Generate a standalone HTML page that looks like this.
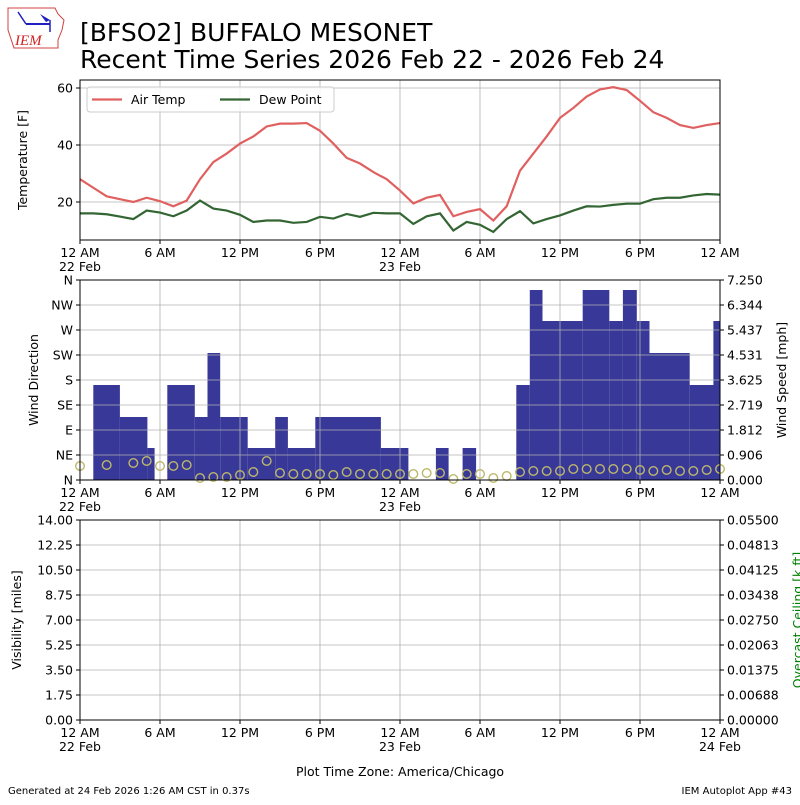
<!DOCTYPE html>
<html><head><meta charset="utf-8"><style>
body{margin:0;background:#fff;}
svg text{font-family:"DejaVu Sans","Liberation Sans",sans-serif;}
</style></head><body>
<svg id="s" width="800" height="800" xmlns="http://www.w3.org/2000/svg">
<rect width="800" height="800" fill="#fff"/>
<path d="M8,8 L55,8 L58,14 L64,20 L62,30 L58,40 L58,48 L14,48 L8,30 Z" fill="none" stroke="#d04040" stroke-width="1"/>
<line x1="26" y1="24" x2="50" y2="24" stroke="#2020c0" stroke-width="2"/>
<line x1="18" y1="12" x2="26" y2="24" stroke="#2020c0" stroke-width="1.5"/>
<path d="M40,14 L50,20 L46,22 Z" fill="#2020c0"/>
<line x1="50" y1="20" x2="50" y2="32" stroke="#2020c0" stroke-width="1.5"/>
<text x="15" y="45" font-size="15" fill="#d02020" font-style="italic" style="font-family:'Liberation Serif',serif">IEM</text>
<text x="80" y="41" font-size="25">[BFSO2] BUFFALO MESONET</text>
<text x="80" y="68" font-size="25">Recent Time Series 2026 Feb 22 - 2026 Feb 24</text>
<g id="g"></g>
<text x="8" y="794" font-size="10">Generated at 24 Feb 2026 1:26 AM CST in 0.37s</text>
<text x="792" y="794" font-size="10" text-anchor="end">IEM Autoplot App #43</text>
</svg>
<script>
const g=document.getElementById('g');let h='';
const X=hr=>80+hr*640/48;
function grid(y0,y1,ys){for(let i=0;i<=8;i++){let x=80+i*80;h+=`<line x1="${x}" y1="${y0}" x2="${x}" y2="${y1}" stroke="#b0b0b0" stroke-width="0.8"/>`;}
ys.forEach(y=>h+=`<line x1="80" y1="${y}" x2="720" y2="${y}" stroke="#b0b0b0" stroke-width="0.8"/>`);}
function xlab(yb){const L=['12 AM','6 AM','12 PM','6 PM','12 AM','6 AM','12 PM','6 PM','12 AM'];
for(let i=0;i<=8;i++){let x=80+i*80;h+=`<line x1="${x}" y1="${yb}" x2="${x}" y2="${yb+4}" stroke="#000"/>`;h+=`<text x="${x}" y="${yb+17}" font-size="12.5" text-anchor="middle">${L[i]}</text>`;}
h+=`<text x="80" y="${yb+31}" font-size="12.5" text-anchor="middle">22 Feb</text><text x="400" y="${yb+31}" font-size="12.5" text-anchor="middle">23 Feb</text>`;}
grid(80,240,[88,145,202]);
const T=[28,25,22,21,20,21.5,20.3,18.5,20.5,28,34,37,40.5,43,46.5,47.5,47.5,47.7,45,40.5,35.5,33.5,30.5,28,24,19.5,21.5,22.5,15,16.5,17.5,13.5,18.5,31,37,43,49.5,53,57,59.5,60.3,59.3,55.5,51.5,49.5,47,46,47,47.7];
const D=[16,16,15.7,14.9,14,17,16.3,15,17,20.5,17.7,17,15.5,13,13.5,13.5,12.7,13,14.8,14.2,15.8,14.8,16.2,16,16,12.3,15,16,10,13,12,9.5,14,16.8,12.5,14,15.3,17,18.5,18.4,19,19.4,19.4,21,21.5,21.5,22.3,22.8,22.6];
const ty=t=>202-(t-20)*2.85;
h+=`<polyline fill="none" stroke="#e06060" stroke-width="2.2" points="${T.map((t,i)=>X(i)+','+ty(t)).join(' ')}"/>`;
h+=`<polyline fill="none" stroke="#336633" stroke-width="2.2" points="${D.map((t,i)=>X(i)+','+ty(t)).join(' ')}"/>`;
h+=`<rect x="80" y="80" width="640" height="160" fill="none" stroke="#000"/>`;
[[88,'60'],[145,'40'],[202,'20']].forEach(a=>h+=`<line x1="76" y1="${a[0]}" x2="80" y2="${a[0]}" stroke="#000"/><text x="73" y="${a[0]+4.5}" font-size="12.5" text-anchor="end">${a[1]}</text>`);
h+=`<rect x="87" y="87" width="247" height="25" rx="3" fill="#fff" fill-opacity="0.85" stroke="#ccc"/>`;
h+=`<line x1="92" y1="99.5" x2="122" y2="99.5" stroke="#e06060" stroke-width="2.2"/><text x="131" y="104" font-size="12.5">Air Temp</text>`;
h+=`<line x1="220" y1="99.5" x2="250" y2="99.5" stroke="#336633" stroke-width="2.2"/><text x="259" y="104" font-size="12.5">Dew Point</text>`;
h+=`<text transform="translate(27,160) rotate(-90)" font-size="12.5" text-anchor="middle">Temperature [F]</text>`;
xlab(240);
const B=[[93.3,119.9,385],[119.9,147.4,417],[147.4,154.6,448],[167.3,194.8,385],[194.8,207.5,417],[207.5,220.2,353],[220.2,247.7,417],[247.7,275.2,448],[275.2,287.9,417],[287.9,315.3,448],[315.3,380.9,417],[380.9,408.4,448],[435.9,448.6,448],[462.6,476.1,448],[516.3,529.8,385],[529.8,542.5,290],[542.5,582.7,321],[582.7,609.3,290],[609.3,622.9,321],[622.9,636.8,290],[636.8,649.5,321],[649.5,689.7,353],[689.7,716.4,385],[713.4,720,321]];
B.forEach(b=>h+=`<rect x="${b[0]}" y="${b[2]}" width="${b[1]-b[0]}" height="${480-b[2]}" fill="#383898"/>`);
grid(280,480,[280,305,330,355,380,405,430,455]);
const C=[[0,466],[2,465],[4,463],[5,461],[6,466],[7,466],[8,465],[9,478],[10,477],[11,477],[12,475],[13,472],[14,461],[15,473],[16,474],[17,474],[18,474],[19,475],[20,472],[21,474],[22,474],[23,474],[24,474],[25,474],[26,473],[27,473],[28,479],[29,474],[30,474],[31,478],[32,476],[33,472],[34,471],[35,471],[36,471],[37,469],[38,469],[39,469],[40,469],[41,469],[42,470],[43,471],[44,470],[45,471],[46,471],[47,470],[48,469]];
C.forEach(c=>h+=`<circle cx="${X(c[0])}" cy="${c[1]}" r="4.3" fill="none" stroke="#bdb76b" stroke-width="1.4"/>`);
h+=`<rect x="80" y="280" width="640" height="200" fill="none" stroke="#000"/>`;
['N','NE','E','SE','S','SW','W','NW','N'].forEach((l,i)=>{let y=480-i*25;h+=`<line x1="76" y1="${y}" x2="80" y2="${y}" stroke="#000"/><text x="73" y="${y+4.5}" font-size="12.5" text-anchor="end">${l}</text>`;});
['0.000','0.906','1.812','2.719','3.625','4.531','5.437','6.344','7.250'].forEach((l,i)=>{let y=480-i*25;h+=`<line x1="720" y1="${y}" x2="724" y2="${y}" stroke="#000"/><text x="727" y="${y+4.5}" font-size="12.5">${l}</text>`;});
h+=`<text transform="translate(38,380) rotate(-90)" font-size="12.5" text-anchor="middle">Wind Direction</text>`;
h+=`<text transform="translate(786,380) rotate(-90)" font-size="12.5" text-anchor="middle">Wind Speed [mph]</text>`;
xlab(480);
grid(520,720,[520,545,570,595,620,645,670,695]);
h+=`<rect x="80" y="520" width="640" height="200" fill="none" stroke="#000"/>`;
['0.00','1.75','3.50','5.25','7.00','8.75','10.50','12.25','14.00'].forEach((l,i)=>{let y=720-i*25;h+=`<line x1="76" y1="${y}" x2="80" y2="${y}" stroke="#000"/><text x="73" y="${y+4.5}" font-size="12.5" text-anchor="end">${l}</text>`;});
['0.00000','0.00688','0.01375','0.02063','0.02750','0.03438','0.04125','0.04813','0.05500'].forEach((l,i)=>{let y=720-i*25;h+=`<line x1="720" y1="${y}" x2="724" y2="${y}" stroke="#000"/><text x="727" y="${y+4.5}" font-size="12.5">${l}</text>`;});
h+=`<text transform="translate(21,620) rotate(-90)" font-size="12.5" text-anchor="middle">Visibility [miles]</text>`;
h+=`<text transform="translate(802,620) rotate(-90)" font-size="12.5" text-anchor="middle" fill="green">Overcast Ceiling [k ft]</text>`;
xlab(720);
h+=`<text x="720" y="751" font-size="12.5" text-anchor="middle">24 Feb</text>`;
h+=`<text x="400" y="776" font-size="12.5" text-anchor="middle">Plot Time Zone: America/Chicago</text>`;
g.innerHTML=h;
</script>
</body></html>
